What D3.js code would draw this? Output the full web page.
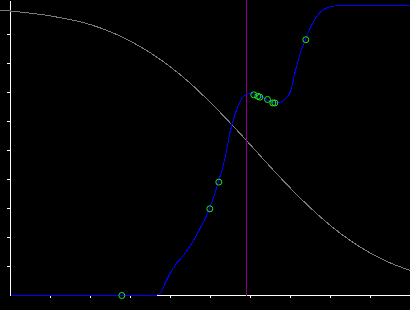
<!DOCTYPE html>
<html>
<head>
<meta charset="utf-8">
<script src="https://cdn.jsdelivr.net/npm/d3@7"></script>
<style>
  html, body { margin: 0; padding: 0; background: #000; }
  svg { display: block; }
  path, line { shape-rendering: crispEdges; }
</style>
</head>
<body>
<svg id="chart"></svg>
<script>
// values (x in 0..10, y in 0..1)

// gray falling curve
let grayX = [-0.25, 0, 1, 2, 3, 4, 4.5, 5, 5.5, 6, 6.5, 7, 7.5, 8, 8.5, 9, 9.5, 10]
let grayY = [0.984, 0.981, 0.964, 0.934, 0.877, 0.788, 0.731, 0.665, 0.594, 0.519, 0.443, 0.370, 0.302, 0.241, 0.189, 0.146, 0.112, 0.086]

// blue fitted curve
let blueX = [0, 1, 2, 3, 3.625, 3.75, 3.875, 4.0, 4.125, 4.325, 4.575, 4.75, 4.975, 5.2, 5.35, 5.5, 5.675, 5.825, 6.0, 6.15, 6.3, 6.45, 6.625, 6.75, 6.875, 7.0, 7.125, 7.25, 7.375, 7.5, 7.675, 7.825, 8.075, 8.375, 9, 10]
let blueY = [0, 0, 0, 0, 0, 0.010, 0.045, 0.079, 0.107, 0.138, 0.190, 0.234, 0.300, 0.393, 0.466, 0.569, 0.648, 0.686, 0.697, 0.691, 0.683, 0.672, 0.664, 0.666, 0.679, 0.703, 0.776, 0.838, 0.883, 0.924, 0.966, 0.986, 0.998, 1.0, 1.0, 1.0]

// green sample points
let ptX = [2.783, 4.983, 5.208, 6.083, 6.183, 6.233, 6.425, 6.558, 6.608, 7.383]
let ptY = [0, 0.299, 0.391, 0.692, 0.687, 0.684, 0.676, 0.664, 0.664, 0.882]

// purple marker
let markerX = 5.9

// ticks (no labels)
let xTicks = [1, 2, 3, 4, 5, 6, 7, 8, 9]
let yTicks = [0.1, 0.2, 0.3, 0.4, 0.5, 0.6, 0.7, 0.8, 0.9]

let width = 410
let height = 310

let svg = d3.select('#chart')
  .attr('width', width)
  .attr('height', height)

svg.append('rect')
  .attr('width', width)
  .attr('height', height)
  .attr('fill', '#000')

let x = d3.scaleLinear().domain([0, 10]).range([10, 410])
let y = d3.scaleLinear().domain([0, 295 / 290]).range([295, 0])

// axes
svg.append('g')
  .attr('transform', 'translate(0,295)')
  .call(d3.axisBottom(x).tickValues(xTicks).tickSize(3).tickSizeOuter(0).tickFormat(''))
  .call(g => g.selectAll('path, line').attr('stroke', '#fff'))

svg.append('g')
  .attr('transform', 'translate(10,0)')
  .call(d3.axisLeft(y).tickValues(yTicks).tickSize(3).tickSizeOuter(0).tickFormat(''))
  .call(g => g.selectAll('path, line').attr('stroke', '#fff'))

let marks = svg.append('g').attr('transform', 'translate(0.5,0.5)')

let line = d3.line()
  .x(d => x(d[0]))
  .y(d => y(d[1]))
  .curve(d3.curveMonotoneX)

marks.append('path')
  .datum(d3.zip(grayX, grayY))
  .attr('d', line)
  .attr('fill', 'none')
  .attr('stroke', '#7a7a7a')
  .attr('stroke-width', 1)

marks.append('line')
  .attr('x1', x(markerX))
  .attr('x2', x(markerX))
  .attr('y1', -1)
  .attr('y2', y(0))
  .attr('stroke', '#8b008b')
  .attr('stroke-width', 1)

// flat start of the blue curve sits on the x axis
marks.append('path')
  .datum(d3.zip(blueX, blueY))
  .attr('d', line)
  .attr('fill', 'none')
  .attr('stroke', '#0000ff')
  .attr('stroke-width', 1)

marks.selectAll('circle.pt')
  .data(d3.zip(ptX, ptY))
  .join('circle')
  .attr('class', 'pt')
  .attr('cx', d => x(d[0]))
  .attr('cy', d => y(d[1]))
  .attr('r', 3)
  .attr('fill', 'none')
  .attr('stroke', '#22e622')
  .attr('stroke-width', 1)
</script>
</body>
</html>
